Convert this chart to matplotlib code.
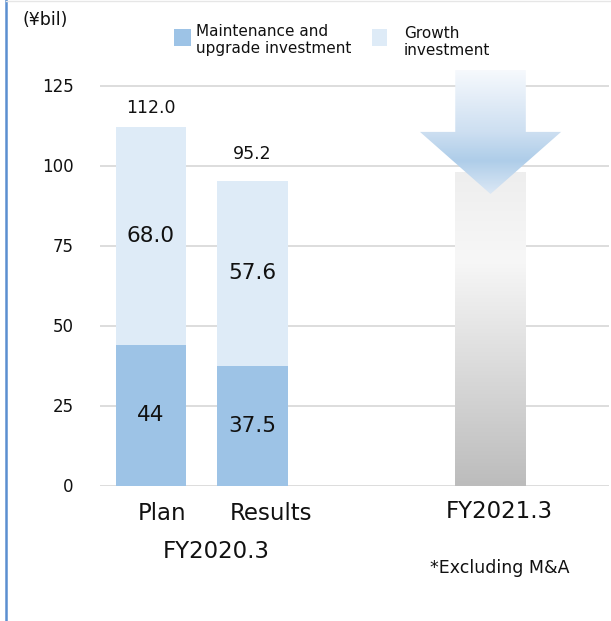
import numpy as np
import matplotlib
matplotlib.use('Agg')
import matplotlib.pyplot as plt
from matplotlib.patches import Polygon
from matplotlib.colors import LinearSegmentedColormap
from matplotlib.lines import Line2D
from matplotlib.patches import Rectangle

# ---------------- data ----------------
categories = ['Plan', 'Results']
group_label = 'FY2020.3'
maintenance = [44.0, 37.5]
growth = [68.0, 57.6]
totals = [112.0, 95.2]
maint_labels = ['44', '37.5']
growth_labels = ['68.0', '57.6']
total_labels = ['112.0', '95.2']
yticks = [0, 25, 50, 75, 100, 125]
forecast_label = 'FY2021.3'
note_label = '*Excluding M&A'
unit_label = '(¥bil)'
legend_labels = ['Maintenance and\nupgrade investment', 'Growth\ninvestment']

# ---------------- style / layout ----------------
W, H = 611, 621
c_maint = '#9dc3e6'
c_growth = '#deebf7'
c_grid = '#dadada'
c_text = '#111111'
bar_w = 0.695
x_pos = [0, 1]
x_forecast = 3.345
gray_top = 98.0
arrow_top, arrow_neck, arrow_tip = 129.8, 110.5, 91.1
head_half = 0.695

fig = plt.figure(figsize=(W / 100, H / 100), dpi=100)
fig.patch.set_facecolor('white')

def fx(px):
    return px / W

def fy(py):
    return 1 - py / H

ax = fig.add_axes([fx(100), fy(485.5), fx(609) - fx(100), 135 * 3.2 / H])
ax.set_xlim(-0.502, 4.512)
ax.set_ylim(0, 135)
for s in ax.spines.values():
    s.set_visible(False)
ax.set_yticks(yticks)
ax.set_yticklabels([str(t) for t in yticks], fontsize=12, color=c_text)
ax.tick_params(axis='y', length=0, pad=19)
ax.set_xticks([])
ax.grid(axis='y', color=c_grid, linewidth=1.3)
ax.set_axisbelow(True)

# stacked bars
ax.bar(x_pos, maintenance, width=bar_w, color=c_maint, zorder=2)
ax.bar(x_pos, growth, width=bar_w, bottom=maintenance, color=c_growth, zorder=2)

for i, x in enumerate(x_pos):
    ax.text(x, maintenance[i] / 2, maint_labels[i], ha='center', va='center',
            fontsize=15.5, color=c_text, zorder=3)
    ax.text(x, maintenance[i] + growth[i] / 2, growth_labels[i], ha='center',
            va='center', fontsize=15.5, color=c_text, zorder=3)

total_offsets_px = [19, 26.5]
for i, x in enumerate(x_pos):
    ax.annotate(total_labels[i], (x, totals[i]), xytext=(0, total_offsets_px[i] * 0.72),
                textcoords='offset points', ha='center', va='center',
                fontsize=12.5, color=c_text)

# forecast gray gradient bar
gray_cmap = LinearSegmentedColormap.from_list(
    'g', [(0.0, '#bcbcbc'), (0.72, '#f7f7f7'), (1.0, '#eeeeee')])
grad = np.linspace(0, 1, 256).reshape(-1, 1)
ax.imshow(grad, cmap=gray_cmap, aspect='auto', origin='lower',
          extent=[x_forecast - bar_w / 2, x_forecast + bar_w / 2, 0, gray_top],
          zorder=2)

# down arrow with gradient
hw = bar_w / 2
arrow_pts = [
    (x_forecast - hw, arrow_top), (x_forecast + hw, arrow_top),
    (x_forecast + hw, arrow_neck), (x_forecast + head_half, arrow_neck),
    (x_forecast, arrow_tip), (x_forecast - head_half, arrow_neck),
    (x_forecast - hw, arrow_neck),
]
poly = Polygon(arrow_pts, closed=True, facecolor='none', edgecolor='none', zorder=4)
ax.add_patch(poly)
blue_cmap = LinearSegmentedColormap.from_list(
    'b', [(0.0, '#dce8f5'), (0.27, '#aecde9'), (0.5, '#cddff1'), (1.0, '#f6f9fd')])
im = ax.imshow(grad, cmap=blue_cmap, aspect='auto', origin='lower',
               extent=[x_forecast - head_half, x_forecast + head_half, arrow_tip, arrow_top],
               zorder=4)
im.set_clip_path(poly)
ax.set_xlim(-0.502, 4.512)
ax.set_ylim(0, 135)

# category labels
fig.text(fx(162), fy(513), categories[0], ha='center', va='center', fontsize=16.5, color=c_text)
fig.text(fx(271), fy(513), categories[1], ha='center', va='center', fontsize=16.5, color=c_text)
fig.text(fx(216.5), fy(552), group_label, ha='center', va='center', fontsize=16.5, color=c_text)
fig.text(fx(499), fy(512), forecast_label, ha='center', va='center', fontsize=16.5, color=c_text)
fig.text(fx(500), fy(568), note_label, ha='center', va='center', fontsize=12.5, color=c_text)
fig.text(fx(23), fy(20), unit_label, ha='left', va='center', fontsize=12.5, color=c_text)

# legend
fig.add_artist(Rectangle((fx(174), fy(46)), fx(191) - fx(174), fy(29) - fy(46),
                         transform=fig.transFigure, facecolor=c_maint, edgecolor='none'))
fig.text(fx(196), fy(40), legend_labels[0], ha='left', va='center', fontsize=11,
         color=c_text, linespacing=1.15)
fig.add_artist(Rectangle((fx(372), fy(46)), fx(387) - fx(372), fy(29) - fy(46),
                         transform=fig.transFigure, facecolor=c_growth, edgecolor='none'))
fig.text(fx(404), fy(42), legend_labels[1], ha='left', va='center', fontsize=11,
         color=c_text, linespacing=1.15)

# frame lines
fig.add_artist(Line2D([fx(5.5), fx(5.5)], [0, 1], transform=fig.transFigure,
                      color='#5b8fd0', linewidth=1.8))
fig.add_artist(Line2D([fx(5.5), 1], [fy(0.5), fy(0.5)], transform=fig.transFigure,
                      color='#e6e6e6', linewidth=1.0))

fig.savefig('out.png', dpi=100, facecolor='white')
